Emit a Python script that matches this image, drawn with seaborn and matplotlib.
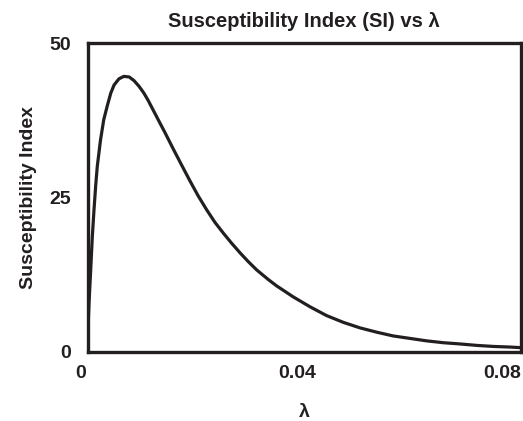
import pandas as pd
import matplotlib.pyplot as plt
import matplotlib.transforms as mtransforms
import seaborn as sns

# values
lam = [0.0, 0.00009, 0.00028, 0.00059, 0.00089, 0.0012, 0.0015, 0.0018, 0.0024,
       0.0030, 0.0037, 0.0043, 0.0049, 0.0058, 0.0067, 0.0077, 0.0086, 0.0095,
       0.0104, 0.0112, 0.0128, 0.0143, 0.0158, 0.0174, 0.0189, 0.0204, 0.0220,
       0.0235, 0.0251, 0.0266, 0.0282, 0.0297, 0.0312, 0.0334, 0.0349, 0.0380,
       0.0411, 0.0441, 0.0472, 0.0503, 0.0534, 0.0564, 0.0595, 0.0626, 0.0657,
       0.0688, 0.0718, 0.0749, 0.0780, 0.0800]
si = [0.0, 3.6, 7.9, 13.3, 18.7, 23.0, 26.8, 30.0, 34.3,
      37.6, 40.0, 41.9, 43.2, 44.2, 44.6, 44.5, 43.9, 43.0,
      41.9, 40.7, 38.0, 35.5, 32.9, 30.2, 27.7, 25.3, 23.0,
      21.0, 19.2, 17.6, 16.0, 14.6, 13.3, 11.7, 10.7, 8.9,
      7.3, 5.9, 4.8, 3.9, 3.2, 2.6, 2.2, 1.8, 1.5,
      1.3, 1.07, 0.9, 0.8, 0.7]
x_ticks = [0, 0.04, 0.08]
x_labels = ['0', '0.04', '0.08']
y_ticks = [0, 25, 50]
y_labels = ['0', '25', '50']

df = pd.DataFrame({'lambda': lam, 'SI': si})

sns.set_style('white')
plt.rcParams['font.family'] = ['Liberation Sans', 'DejaVu Sans']
plt.rcParams['font.weight'] = 'bold'

ink = '#231f20'

fig = plt.figure(figsize=(5.23, 4.21), dpi=100)
ax = fig.add_axes([87.5 / 523, 1 - 352 / 421, (521 - 87.5) / 523, (352 - 43) / 421])

sns.lineplot(data=df, x='lambda', y='SI', ax=ax, color=ink, linewidth=2.3,
             sort=False, solid_joinstyle='round', solid_capstyle='round')

ax.set_xlim(0, 0.08)
ax.set_ylim(0, 50)
ax.set_xticks(x_ticks)
ax.set_xticklabels(x_labels)
ax.set_yticks(y_ticks)
ax.set_yticklabels(y_labels)
ax.tick_params(axis='both', length=0, labelsize=14, colors=ink)
ax.tick_params(axis='x', pad=9)
ax.tick_params(axis='y', pad=12)

for sp in ax.spines.values():
    sp.set_visible(True)
    sp.set_color(ink)
    sp.set_linewidth(2.4)

# nudge x tick labels like the reference
shift = mtransforms.ScaledTranslation(-7 / 100, 0, fig.dpi_scale_trans)
xl = ax.get_xticklabels()
for lab in xl[:2]:
    lab.set_transform(lab.get_transform() + shift)
xl[2].set_horizontalalignment('right')

ax.set_title('Susceptibility Index (SI) vs λ', fontsize=14.5, fontweight='bold', color=ink, pad=11.5)
ax.set_xlabel('λ', fontsize=14, fontweight='bold', color=ink, labelpad=16)
ax.set_ylabel('Susceptibility Index', fontsize=14, fontweight='bold', color=ink, labelpad=9)

fig.savefig('out.png', dpi=100)
